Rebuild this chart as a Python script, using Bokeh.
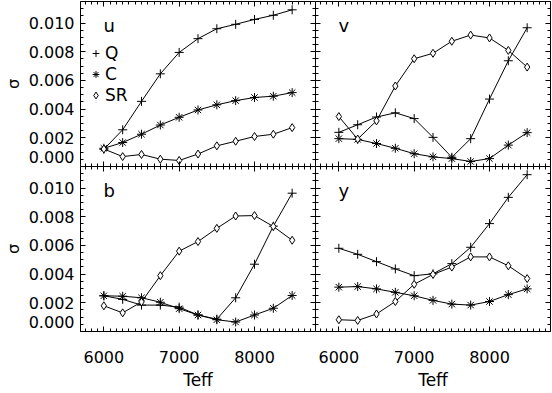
from bokeh.plotting import figure
from bokeh.layouts import gridplot
from bokeh.models import (Range1d, LinearAxis, SingleIntervalTicker, FixedTicker,
                          PrintfTickFormatter, Label, Legend, LegendItem)
from bokeh.embed import file_html
from bokeh.resources import INLINE

# ---------------- data ----------------
teff = [6000, 6250, 6500, 6750, 7000, 7250, 7500, 7750, 8000, 8250, 8500]

u_Q = [0.00120, 0.00256, 0.00454, 0.00646, 0.00795, 0.00891, 0.00960, 0.00991, 0.01025, 0.01054, 0.01092]
u_C = [0.00127, 0.00167, 0.00225, 0.00289, 0.00343, 0.00394, 0.00430, 0.00459, 0.00481, 0.00490, 0.00515]
u_SR = [0.00122, 0.00069, 0.00084, 0.00051, 0.00042, 0.00087, 0.00144, 0.00176, 0.00209, 0.00225, 0.00271]

v_Q = [0.00238, 0.00291, 0.00345, 0.00374, 0.00334, 0.00203, 0.00064, 0.00194, 0.00470, 0.00737, 0.00967]
v_C = [0.00194, 0.00189, 0.00160, 0.00127, 0.00089, 0.00067, 0.00055, 0.00035, 0.00055, 0.00149, 0.00236]
v_SR = [0.00348, 0.00191, 0.00318, 0.00561, 0.00751, 0.00789, 0.00873, 0.00916, 0.00896, 0.00809, 0.00693]

b_Q = [0.00249, 0.00224, 0.00184, 0.00184, 0.00170, 0.00115, 0.00086, 0.00235, 0.00469, 0.00734, 0.00964]
b_C = [0.00249, 0.00246, 0.00235, 0.00204, 0.00159, 0.00115, 0.00082, 0.00066, 0.00115, 0.00162, 0.00251]
b_SR = [0.00179, 0.00130, 0.00206, 0.00389, 0.00560, 0.00627, 0.00719, 0.00805, 0.00808, 0.00732, 0.00636]

y_Q = [0.00580, 0.00538, 0.00487, 0.00436, 0.00389, 0.00402, 0.00473, 0.00587, 0.00752, 0.00935, 0.01093]
y_C = [0.00309, 0.00313, 0.00297, 0.00273, 0.00249, 0.00217, 0.00191, 0.00184, 0.00209, 0.00257, 0.00297]
y_SR = [0.00082, 0.00077, 0.00122, 0.00209, 0.00329, 0.00398, 0.00449, 0.00520, 0.00520, 0.00458, 0.00369]

series_names = ["Q", "C", "SR"]
x_label = "Teff"
y_label = "σ"
# sigma-axis labels: the lowest one ("0.000") sits a little above its tick
zero_label_pos = 0.00065
y_label_pos = [zero_label_pos, 0.002, 0.004, 0.006, 0.008, 0.010]
zero_label_text = "0.000"
x_start, x_end = 5690, 8810
y_start, y_end = 0.0, 0.0115

FONT = "DejaVu Sans"
FH = 165


def style_axis(ax, labeled):
    ax.axis_line_color = "black"
    ax.axis_line_width = 1
    ax.major_tick_in = 5
    ax.major_tick_out = 0
    ax.minor_tick_in = 3
    ax.minor_tick_out = 0
    ax.major_tick_line_color = "black"
    ax.minor_tick_line_color = "black"
    if labeled:
        ax.major_label_text_font = FONT
        ax.major_label_text_font_size = "16px"
        ax.major_label_text_color = "black"
    else:
        ax.major_label_text_font_size = "0px"
        ax.major_label_text_color = None
        ax.major_label_standoff = 0


def make_panel(name, Q, C, SR, left_lab, bottom_lab, legend):
    fw = 235
    p = figure(frame_width=fw, frame_height=FH,
               x_range=Range1d(x_start, x_end), y_range=Range1d(y_start, y_end),
               x_axis_location=None, y_axis_location=None,
               output_backend="svg", toolbar_location=None,
               min_border=0)
    p.outline_line_color = None
    p.grid.visible = False
    p.background_fill_color = "white"
    p.border_fill_color = "white"
    p.min_border_top = 0 if bottom_lab else 1
    p.min_border_right = 0 if left_lab else 1

    for loc in ["left", "right", "above", "below"]:
        if loc in ("left", "right"):
            ax = LinearAxis(ticker=SingleIntervalTicker(interval=0.002, num_minor_ticks=4))
            labeled = False
        else:
            ax = LinearAxis(ticker=SingleIntervalTicker(interval=1000, num_minor_ticks=12))
            labeled = (loc == "below" and bottom_lab)
        style_axis(ax, labeled)
        if labeled and loc == "below":
            ax.major_label_standoff = 19
            ax.axis_label = x_label
            ax.axis_label_text_font = FONT
            ax.axis_label_text_font_size = "17px"
            ax.axis_label_text_font_style = "normal"
            ax.axis_label_text_color = "black"
            ax.axis_label_standoff = 4
        p.add_layout(ax, loc)

    if left_lab:
        lab = LinearAxis(ticker=FixedTicker(ticks=y_label_pos, minor_ticks=[]),
                         formatter=PrintfTickFormatter(format="%.3f"))
        style_axis(lab, True)
        lab.major_label_overrides = {zero_label_pos: zero_label_text}
        lab.major_tick_in = 0
        lab.minor_tick_in = 0
        lab.axis_line_color = None
        lab.major_label_standoff = 6
        lab.axis_label = y_label
        lab.axis_label_text_font = FONT
        lab.axis_label_text_font_size = "16px"
        lab.axis_label_text_font_style = "normal"
        lab.axis_label_text_color = "black"
        lab.axis_label_standoff = 3
        p.add_layout(lab, "left")

    renderers = []
    for vals, marker, size in ((Q, "cross", 9), (C, "asterisk", 9), (SR, "diamond", 8)):
        p.line(teff, vals, line_color="black", line_width=1)
        r = p.scatter(teff, vals, marker=marker, size=size, line_color="black",
                      line_width=1, fill_color="white")
        renderers.append(r)

    p.add_layout(Label(x=23, x_units="screen", y=FH - 24, y_units="screen", text=name,
                       text_font=FONT, text_font_size="18px", text_color="black",
                       text_baseline="alphabetic"))

    if legend:
        items = [LegendItem(label=n, renderers=[r]) for n, r in zip(series_names, renderers)]
        lg = Legend(items=items, location=(7, 61), background_fill_alpha=0,
                    border_line_color=None, padding=0, margin=0, spacing=1,
                    glyph_width=17, glyph_height=20, label_height=20, label_standoff=1,
                    label_text_font=FONT, label_text_font_size="17px", label_text_color="black")
        p.add_layout(lg)
    return p


p1 = make_panel("u", u_Q, u_C, u_SR, True, False, True)
p2 = make_panel("v", v_Q, v_C, v_SR, False, False, False)
p3 = make_panel("b", b_Q, b_C, b_SR, True, True, False)
p4 = make_panel("y", y_Q, y_C, y_SR, False, True, False)

grid = gridplot([[p1, p2], [p3, p4]], toolbar_location=None)

open("out.html", "w").write(file_html(grid, INLINE))
